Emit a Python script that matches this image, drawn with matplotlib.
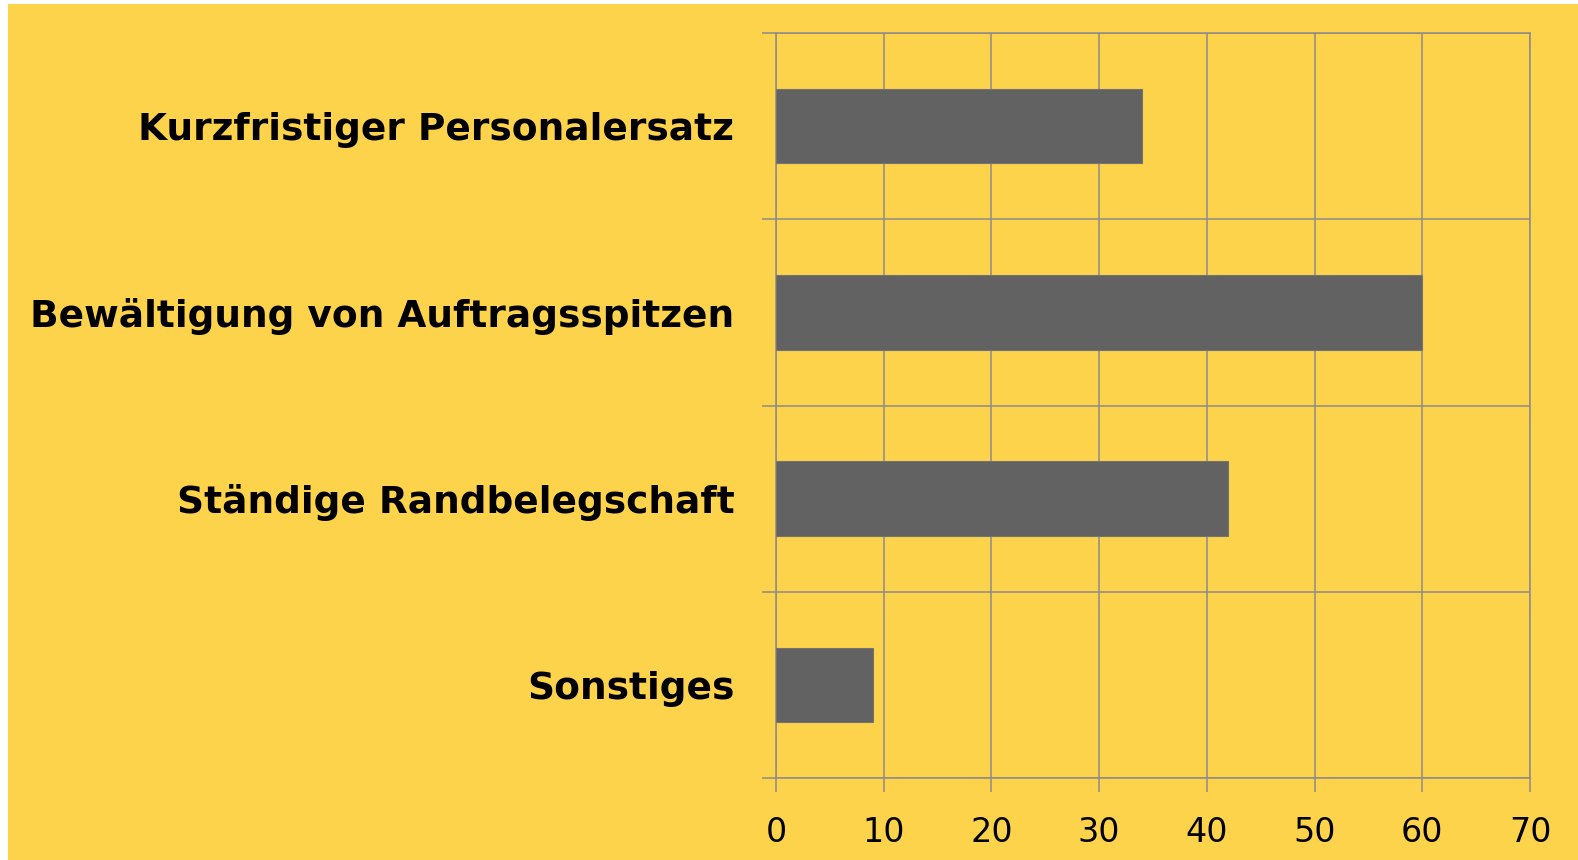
import matplotlib
matplotlib.use('Agg')
import matplotlib.pyplot as plt
import matplotlib.patches as mpatches
import numpy as np

categories = ['Kurzfristiger Personalersatz', 'Bewältigung von Auftragsspitzen',
              'Ständige Randbelegschaft', 'Sonstiges']
values = [34, 60, 42, 9]
xticks = [0, 10, 20, 30, 40, 50, 60, 70]

YELLOW = '#FED34C'
BAR = '#626262'
GRID = '#8C8C8C'

fig = plt.figure(figsize=(15.78, 8.60), dpi=100, facecolor='white')
# yellow panel (small white margin at left/top)
fig.patches.append(mpatches.Rectangle((8 / 1578, 0), 1, 1 - 4 / 860, transform=fig.transFigure,
                                      facecolor=YELLOW, edgecolor='none', zorder=-10))

ax = fig.add_axes([776 / 1578, 1 - 778 / 860, (1530 - 776) / 1578, (778 - 33) / 860])
ax.set_facecolor('none')

y = np.arange(len(categories))
ax.barh(y, values, height=0.4, color=BAR, edgecolor='#737373', linewidth=0.8, zorder=3)

ax.set_xlim(0, 70)
ax.set_ylim(len(categories) - 0.5, -0.5)

ax.set_xticks(xticks)
ax.set_xticklabels([str(t) for t in xticks], fontsize=24)
ax.set_yticks(y)
ax.set_yticklabels(categories, fontsize=27, fontweight='bold')
ax.set_yticks(np.arange(-0.5, len(categories)), minor=True)

ax.tick_params(axis='x', length=10, width=1.1, color=GRID, pad=17)
ax.tick_params(axis='y', which='major', length=0, pad=30)
ax.tick_params(axis='y', which='minor', length=10, width=1.1, color=GRID)

ax.grid(axis='x', which='major', color=GRID, linewidth=1.1, zorder=1)
ax.grid(axis='y', which='minor', color=GRID, linewidth=1.1, zorder=1)
for s in ax.spines.values():
    s.set_color(GRID)
    s.set_linewidth(1.1)

plt.savefig('out.png', dpi=100)
plt.close()
